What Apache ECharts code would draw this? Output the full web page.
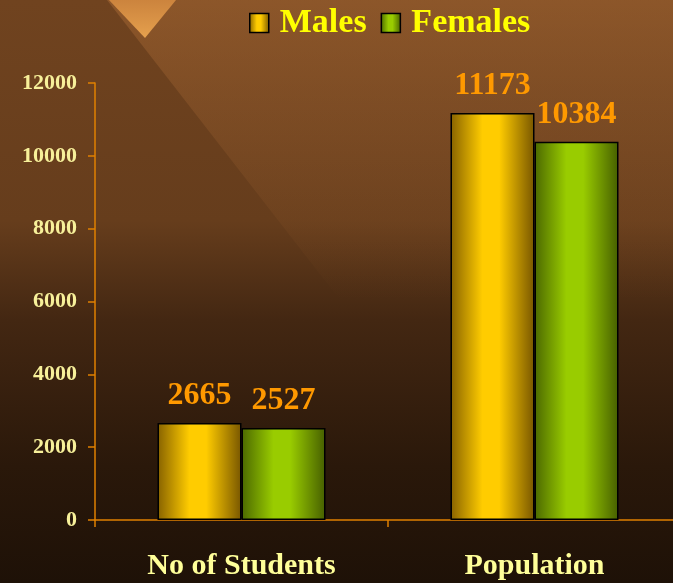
<!DOCTYPE html>
<html><head><meta charset="utf-8">
<script src="https://cdn.jsdelivr.net/npm/echarts@6/dist/echarts.min.js"></script>
<style>html,body{margin:0;padding:0;background:#2a180a;}#c{width:673px;height:583px;}</style>
</head><body><div id="c"></div>
<script>
const categories = ['No of Students', 'Population'];
const males = [2665, 11173];
const females = [2527, 10384];
const yTicks = { min: 0, max: 12000, interval: 2000 };

const serif = '"Liberation Serif", "DejaVu Serif", serif';
function grad(edgeL, mid, edgeR) {
  return new echarts.graphic.LinearGradient(0, 0, 1, 0, [
    { offset: 0, color: edgeL }, { offset: 0.38, color: mid },
    { offset: 0.58, color: mid }, { offset: 1, color: edgeR }]);
}
const maleColor = grad('#876200', '#ffcc00', '#785600');
const femaleColor = grad('#4b6800', '#99cc00', '#465f00');

const chart = echarts.init(document.getElementById('c'));
chart.setOption({
  animation: false,
  graphic: [
    { type: 'rect', z: -10, silent: true, shape: { x: 0, y: 0, width: 673, height: 583 },
      style: { fill: new echarts.graphic.LinearGradient(0, 0, 0, 1, [
        { offset: 0, color: '#70431f' }, { offset: 0.38, color: '#663d1c' },
        { offset: 0.55, color: '#432712' }, { offset: 0.8, color: '#2a180a' }, { offset: 1, color: '#1e1107' }]) } },
    { type: 'polygon', z: -9, silent: true,
      shape: { points: [[107, 0], [673, 0], [673, 300], [340, 300]] },
      style: { fill: new echarts.graphic.LinearGradient(0, 0, 0, 1, [
        { offset: 0, color: 'rgba(175,110,55,0.45)' }, { offset: 0.6, color: 'rgba(160,100,50,0.2)' },
        { offset: 1, color: 'rgba(150,90,40,0)' }]) } },
    { type: 'polygon', z: -8, silent: true,
      shape: { points: [[109, 0], [176, 0], [145, 38]] },
      style: { fill: new echarts.graphic.LinearGradient(0, 0, 0, 1, [
        { offset: 0, color: 'rgba(215,140,65,0.85)' }, { offset: 1, color: 'rgba(235,165,80,0.95)' }]) } }
  ],
  legend: {
    top: 1, left: 244,
    icon: 'rect',
    itemWidth: 19, itemHeight: 19, itemGap: 14,
    textStyle: { color: '#ffff00', fontFamily: serif, fontWeight: 'bold', fontSize: 34, padding: [0, 0, 0, 6] },
    data: [
      { name: 'Males', itemStyle: { color: maleColor, borderColor: '#000', borderWidth: 1.5 } },
      { name: 'Females', itemStyle: { color: femaleColor, borderColor: '#000', borderWidth: 1.5 } }
    ]
  },
  grid: { left: 95, top: 83, bottom: 63, width: 586, outerBoundsMode: 'none', containLabel: false },
  xAxis: {
    type: 'category', data: categories,
    axisLine: { lineStyle: { color: '#e08000', width: 1.5 } },
    axisTick: { show: true, length: 7, lineStyle: { color: '#e08000', width: 1.5 } },
    axisLabel: { color: '#ffff99', fontFamily: serif, fontWeight: 'bold', fontSize: 30, margin: 31 }
  },
  yAxis: {
    type: 'value', min: yTicks.min, max: yTicks.max, interval: yTicks.interval,
    splitLine: { show: false },
    axisLine: { show: true, lineStyle: { color: '#e08000', width: 1.5 } },
    axisTick: { show: true, length: 7, lineStyle: { color: '#e08000', width: 1.5 } },
    axisLabel: { color: '#f7f09a', fontFamily: serif, fontWeight: 'bold', fontSize: 22, margin: 18,
      formatter: v => String(v) }
  },
  series: [
    { name: 'Males', type: 'bar', data: males, barWidth: 84, barGap: '0%',
      itemStyle: { color: maleColor, borderColor: '#000', borderWidth: 1.5 },
      label: { show: true, position: 'top', distance: 11, color: '#ff9900', fontFamily: serif, fontWeight: 'bold', fontSize: 32 } },
    { name: 'Females', type: 'bar', data: females, barWidth: 84,
      itemStyle: { color: femaleColor, borderColor: '#000', borderWidth: 1.5 },
      label: { show: true, position: 'top', distance: 11, color: '#ff9900', fontFamily: serif, fontWeight: 'bold', fontSize: 32 } }
  ]
});
</script></body></html>
